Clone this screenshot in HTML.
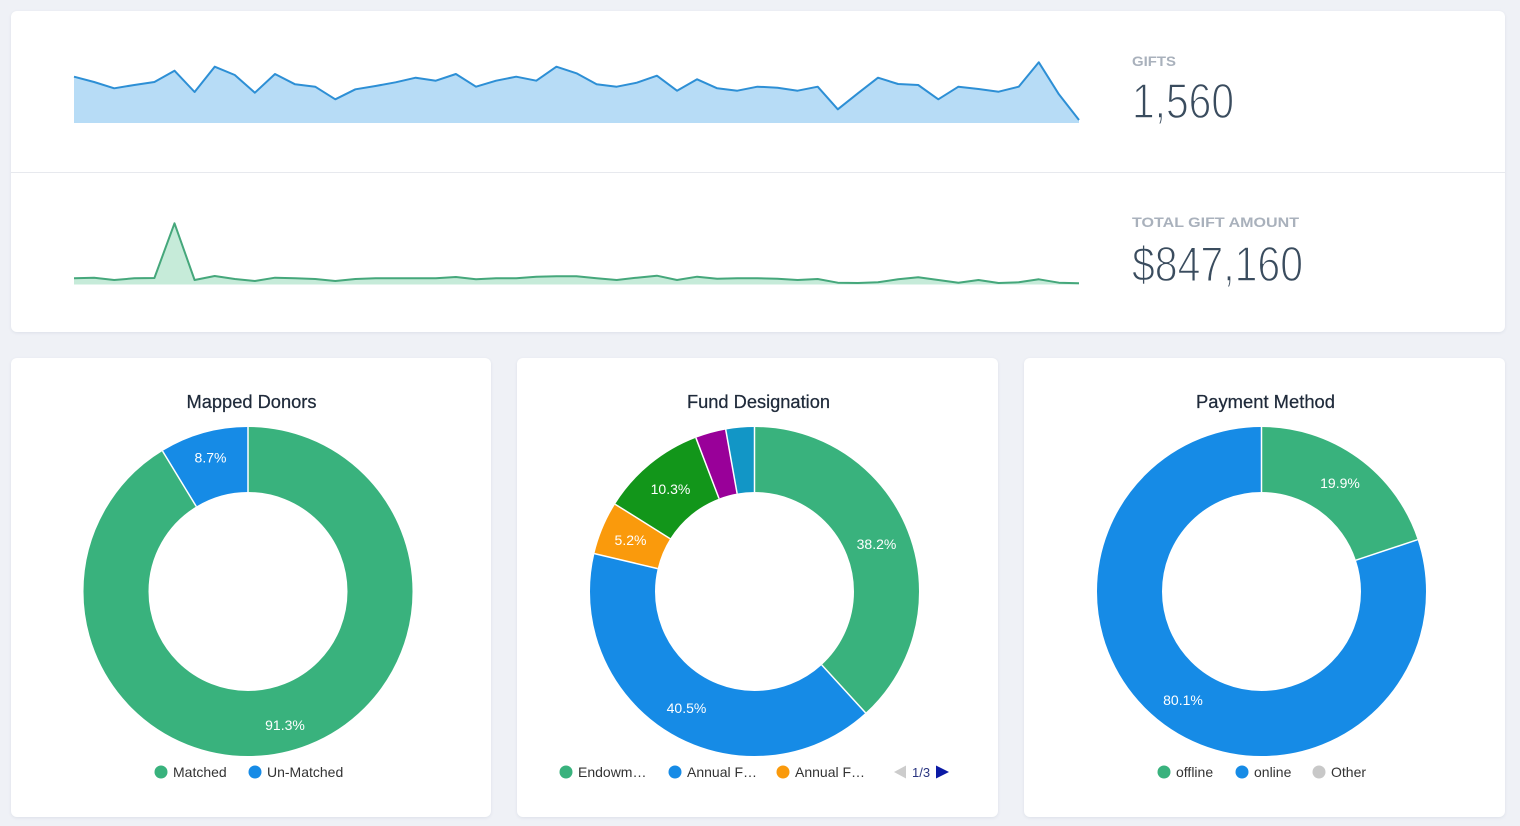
<!DOCTYPE html>
<html>
<head>
<meta charset="utf-8">
<style>
html,body{margin:0;padding:0;background:#eff1f6;}
body{width:1520px;height:826px;overflow:hidden;}
svg{display:block;}
text{font-family:"Liberation Sans",Arial,sans-serif;}
</style>
</head>
<body>
<svg width="1520" height="826" viewBox="0 0 1520 826" xmlns="http://www.w3.org/2000/svg">
<defs>
<filter id="sh" x="-5%" y="-5%" width="110%" height="110%">
<feDropShadow dx="0" dy="1" stdDeviation="1.5" flood-color="#b8c0d0" flood-opacity="0.35"/>
</filter>
</defs>
<rect x="0" y="0" width="1520" height="826" fill="#eff1f6"/>
<!-- top panel -->
<rect x="11" y="11" width="1494" height="321" rx="6" fill="#fff" filter="url(#sh)"/>
<line x1="11" y1="172.5" x2="1505" y2="172.5" stroke="#e7e9ee" stroke-width="1"/>

<!-- gifts sparkline -->
<polygon fill="#b7dcf6" points="74,123 74,76.7 94.1,82 114.2,88.3 134.3,85 154.4,82 174.5,70.7 194.6,92 214.7,66.7 234.8,75 254.9,92.7 275,74 295.1,84.3 315.2,86.7 335.3,99.3 355.4,89.3 375.5,86 395.6,82.3 415.7,77.7 435.8,80.7 455.9,74 476,86.7 496.1,80.7 516.2,76.7 536.3,80.7 556.4,66.7 576.5,73.3 596.6,84.3 616.7,86.7 636.8,82.7 656.9,75.7 677,90.7 697.1,79.3 717.2,88.3 737.3,90.7 757.4,86.7 777.5,87.7 797.6,90.7 817.7,86.7 837.8,109.3 857.9,93.3 878,77.7 898.1,84 918.2,85 938.3,99.3 958.4,86.7 978.5,89 998.6,91.7 1018.7,86.7 1038.8,62.3 1058.9,94.3 1079,120 1079,123"/>
<polyline fill="none" stroke="#2d8fd5" stroke-width="2" stroke-linejoin="round" points="74,76.7 94.1,82 114.2,88.3 134.3,85 154.4,82 174.5,70.7 194.6,92 214.7,66.7 234.8,75 254.9,92.7 275,74 295.1,84.3 315.2,86.7 335.3,99.3 355.4,89.3 375.5,86 395.6,82.3 415.7,77.7 435.8,80.7 455.9,74 476,86.7 496.1,80.7 516.2,76.7 536.3,80.7 556.4,66.7 576.5,73.3 596.6,84.3 616.7,86.7 636.8,82.7 656.9,75.7 677,90.7 697.1,79.3 717.2,88.3 737.3,90.7 757.4,86.7 777.5,87.7 797.6,90.7 817.7,86.7 837.8,109.3 857.9,93.3 878,77.7 898.1,84 918.2,85 938.3,99.3 958.4,86.7 978.5,89 998.6,91.7 1018.7,86.7 1038.8,62.3 1058.9,94.3 1079,120"/>

<!-- amount sparkline -->
<polygon fill="#c6ebd9" points="74,284.5 74,278.3 94.1,277.7 114.2,280 134.3,278.3 154.4,278 174.5,223.3 194.6,280 214.7,276 234.8,279 254.9,281 275,277.7 295.1,278.3 315.2,279 335.3,281 355.4,279 375.5,278.3 395.6,278.3 415.7,278.3 435.8,278.3 455.9,277 476,279.3 496.1,278.3 516.2,278.3 536.3,276.7 556.4,276.3 576.5,276.3 596.6,278.3 616.7,280 636.8,277.7 656.9,275.7 677,280 697.1,276.7 717.2,278.7 737.3,278.3 757.4,278.3 777.5,278.7 797.6,280 817.7,279 837.8,282.7 857.9,283 878,282.3 898.1,279.3 918.2,277.3 938.3,280 958.4,282.7 978.5,280 998.6,283 1018.7,282.3 1038.8,279.3 1058.9,282.7 1079,283.3 1079,284.5"/>
<polyline fill="none" stroke="#45a77b" stroke-width="2" stroke-linejoin="round" points="74,278.3 94.1,277.7 114.2,280 134.3,278.3 154.4,278 174.5,223.3 194.6,280 214.7,276 234.8,279 254.9,281 275,277.7 295.1,278.3 315.2,279 335.3,281 355.4,279 375.5,278.3 395.6,278.3 415.7,278.3 435.8,278.3 455.9,277 476,279.3 496.1,278.3 516.2,278.3 536.3,276.7 556.4,276.3 576.5,276.3 596.6,278.3 616.7,280 636.8,277.7 656.9,275.7 677,280 697.1,276.7 717.2,278.7 737.3,278.3 757.4,278.3 777.5,278.7 797.6,280 817.7,279 837.8,282.7 857.9,283 878,282.3 898.1,279.3 918.2,277.3 938.3,280 958.4,282.7 978.5,280 998.6,283 1018.7,282.3 1038.8,279.3 1058.9,282.7 1079,283.3"/>

<!-- KPIs -->
<text x="1132" y="66" font-size="14" font-weight="bold" fill="#a9b1bc" textLength="44" lengthAdjust="spacingAndGlyphs">GIFTS</text>
<text x="1132" y="118" font-size="49" fill="#3a4c5e" stroke="#fff" stroke-width="1.4" textLength="102" lengthAdjust="spacingAndGlyphs">1,560</text>
<text x="1132" y="227" font-size="14" font-weight="bold" fill="#a9b1bc" textLength="167" lengthAdjust="spacingAndGlyphs">TOTAL GIFT AMOUNT</text>
<text x="1132" y="281" font-size="49" fill="#3a4c5e" stroke="#fff" stroke-width="1.4" textLength="171" lengthAdjust="spacingAndGlyphs">$847,160</text>

<!-- cards -->
<rect x="11" y="358" width="480" height="459" rx="6" fill="#fff" filter="url(#sh)"/>
<rect x="517" y="358" width="481" height="459" rx="6" fill="#fff" filter="url(#sh)"/>
<rect x="1024" y="358" width="481" height="459" rx="6" fill="#fff" filter="url(#sh)"/>

<!-- titles -->
<g font-size="18" fill="#1f2a3a" stroke="#1f2a3a" stroke-width="0.25">
<text x="186.5" y="408" textLength="130" lengthAdjust="spacingAndGlyphs">Mapped Donors</text>
<text x="687" y="408" textLength="143" lengthAdjust="spacingAndGlyphs">Fund Designation</text>
<text x="1196" y="408" textLength="139" lengthAdjust="spacingAndGlyphs">Payment Method</text>
</g>

<!-- Mapped Donors donut: C = 829.38 -->
<g transform="rotate(-90 248 591.5)" fill="none" stroke-width="65">
<circle cx="248" cy="591.5" r="132" stroke="#39b27d" stroke-dasharray="757.22 829.38" stroke-dashoffset="0"/>
<circle cx="248" cy="591.5" r="132" stroke="#168be6" stroke-dasharray="72.16 829.38" stroke-dashoffset="-757.22"/>
</g>
<g stroke="#fff" stroke-width="1.5">
<line x1="248" y1="427" x2="248" y2="492"/>
<line x1="196.3" y1="506.5" x2="162.5" y2="451"/>
</g>
<g font-size="14" fill="#fff" text-anchor="middle">
<text x="210.5" y="462.5">8.7%</text>
<text x="285" y="730">91.3%</text>
</g>

<!-- Fund Designation donut -->
<g transform="rotate(-90 754.5 591.5)" fill="none" stroke-width="65">
<circle cx="754.5" cy="591.5" r="132" stroke="#39b27d" stroke-dasharray="316.82 829.38" stroke-dashoffset="0"/>
<circle cx="754.5" cy="591.5" r="132" stroke="#168be6" stroke-dasharray="335.90 829.38" stroke-dashoffset="-316.82"/>
<circle cx="754.5" cy="591.5" r="132" stroke="#fa9a0c" stroke-dasharray="43.13 829.38" stroke-dashoffset="-652.72"/>
<circle cx="754.5" cy="591.5" r="132" stroke="#12961a" stroke-dasharray="85.43 829.38" stroke-dashoffset="-695.85"/>
<circle cx="754.5" cy="591.5" r="132" stroke="#990099" stroke-dasharray="24.88 829.38" stroke-dashoffset="-781.28"/>
<circle cx="754.5" cy="591.5" r="132" stroke="#1296c6" stroke-dasharray="23.22 829.38" stroke-dashoffset="-806.16"/>
</g>
<g stroke="#fff" stroke-width="1.5">
<line x1="754.5" y1="427" x2="754.5" y2="492"/>
<line x1="821.7" y1="664.9" x2="865.6" y2="712.9"/>
<line x1="657.7" y1="568.6" x2="594.4" y2="553.6"/>
<line x1="670.2" y1="538.7" x2="615.1" y2="504.2"/>
<line x1="719.0" y1="498.5" x2="695.9" y2="437.8"/>
<line x1="737.1" y1="493.5" x2="725.7" y2="429.5"/>
</g>
<g font-size="14" fill="#fff" text-anchor="middle">
<text x="876.5" y="549">38.2%</text>
<text x="686.5" y="713">40.5%</text>
<text x="630.5" y="545">5.2%</text>
<text x="670.5" y="494">10.3%</text>
</g>

<!-- Payment Method donut -->
<g transform="rotate(-90 1261.5 591.5)" fill="none" stroke-width="65">
<circle cx="1261.5" cy="591.5" r="132" stroke="#39b27d" stroke-dasharray="165.05 829.38" stroke-dashoffset="0"/>
<circle cx="1261.5" cy="591.5" r="132" stroke="#168be6" stroke-dasharray="664.33 829.38" stroke-dashoffset="-165.05"/>
</g>
<g stroke="#fff" stroke-width="1.5">
<line x1="1261.5" y1="427" x2="1261.5" y2="492"/>
<line x1="1355.9" y1="560.2" x2="1417.6" y2="539.7"/>
</g>
<g font-size="14" fill="#fff" text-anchor="middle">
<text x="1340" y="488">19.9%</text>
<text x="1183" y="705">80.1%</text>
</g>

<!-- legends -->
<g font-size="14" fill="#333">
<circle cx="161" cy="772" r="6.5" fill="#39b27d"/>
<text x="173" y="777">Matched</text>
<circle cx="255" cy="772" r="6.5" fill="#168be6"/>
<text x="267" y="777">Un-Matched</text>

<circle cx="566" cy="772" r="6.5" fill="#39b27d"/>
<text x="578" y="777">Endowm…</text>
<circle cx="675" cy="772" r="6.5" fill="#168be6"/>
<text x="687" y="777">Annual F…</text>
<circle cx="783" cy="772" r="6.5" fill="#fa9a0c"/>
<text x="795" y="777">Annual F…</text>
<polygon points="894,772 906,765.5 906,778.5" fill="#cccccc"/>
<text x="912" y="777" fill="#2a3580" font-size="13">1/3</text>
<polygon points="949,772 936,765.5 936,778.5" fill="#0b1aa5"/>

<circle cx="1164" cy="772" r="6.5" fill="#39b27d"/>
<text x="1176" y="777">offline</text>
<circle cx="1242" cy="772" r="6.5" fill="#168be6"/>
<text x="1254" y="777">online</text>
<circle cx="1319" cy="772" r="6.5" fill="#c8c8c8"/>
<text x="1331" y="777">Other</text>
</g>
</svg>
</body>
</html>
